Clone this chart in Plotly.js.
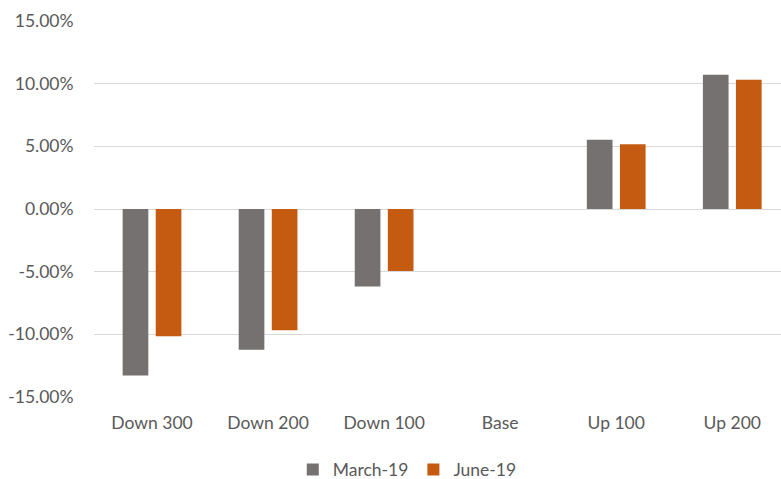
<!DOCTYPE html>
<html>
<head>
<meta charset="utf-8">
<script src="https://cdn.plot.ly/plotly-3.0.1.min.js"></script>
<style>
  html, body { margin: 0; padding: 0; background: #fff; }
  #chart { width: 781px; height: 479px; }
</style>
</head>
<body>
<div id="chart"></div>
<script>
// Rate shock scenarios and change in net interest income
const scenarios = ['Down 300', 'Down 200', 'Down 100', 'Base', 'Up 100', 'Up 200'];
const march19 = [-0.1328, -0.1123, -0.0619, 0, 0.0552, 0.1072];
const june19 = [-0.1016, -0.0968, -0.0495, 0, 0.0517, 0.1032];
const yTicks = [-0.15, -0.10, -0.05, 0, 0.05, 0.10, 0.15];
// Tick labels with a plain hyphen for negatives
const yTickText = yTicks.map(v => (v * 100).toFixed(2) + '%');

const textColor = '#595959';
const font = { family: 'Lato, Open Sans, sans-serif', size: 17.5, color: textColor };

const traces = [
  { type: 'bar', name: 'March-19', x: scenarios, y: march19,
    marker: { color: '#757171' }, hoverinfo: 'x+y' },
  { type: 'bar', name: 'June-19', x: scenarios, y: june19,
    marker: { color: '#C55A11' }, hoverinfo: 'x+y' }
];

const layout = {
  width: 781, height: 479,
  margin: { l: 94, r: 0, t: 21, b: 82, autoexpand: false },
  paper_bgcolor: '#ffffff', plot_bgcolor: '#ffffff',
  font: font,
  barmode: 'group',
  bargap: 0.43,
  bargroupgap: 0.224,
  showlegend: true,
  legend: {
    orientation: 'h', x: 0.456, xanchor: 'center', y: -0.193, yanchor: 'middle',
    font: font, itemwidth: 30, tracegroupgap: 0
  },
  xaxis: {
    type: 'category', range: [-0.5, 5.42], automargin: false,
    showgrid: false, zeroline: false, showline: false,
    ticks: 'outside', ticklen: 10, tickcolor: 'rgba(0,0,0,0)',
    tickfont: font, fixedrange: true
  },
  yaxis: {
    range: [-0.15, 0.15], tickmode: 'array', tickvals: yTicks, ticktext: yTickText,
    automargin: false,
    showgrid: true, gridcolor: '#d9d9d9', gridwidth: 1,
    zeroline: true, zerolinecolor: '#d9d9d9', zerolinewidth: 1,
    showline: false, ticks: 'outside', ticklen: 16, tickcolor: 'rgba(0,0,0,0)',
    tickfont: font, fixedrange: true
  }
};

Plotly.newPlot('chart', traces, layout, { displayModeBar: false, staticPlot: true });
</script>
</body>
</html>
